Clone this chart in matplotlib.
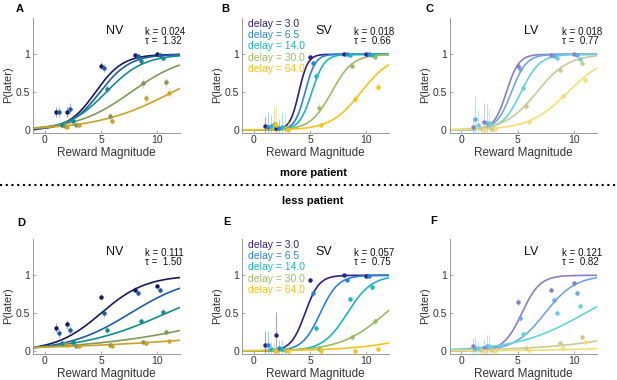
import matplotlib
matplotlib.use("Agg")
import matplotlib.pyplot as plt
import numpy as np
from matplotlib.lines import Line2D

plt.rcParams['font.family'] = ['Liberation Sans', 'DejaVu Sans']

delays = [3.0, 6.5, 14.0, 30.0, 64.0]
magnitudes = [1, 2, 5, 8, 10]

# colours per model (NV darkest, SV medium, LV pale)
colors_NV = ['#1b1a58', '#1f5ca8', '#168a8e', '#86965a', '#cba326']
colors_SV = ['#2c2085', '#2d83d3', '#1eb4c1', '#9eb966', '#f3c41d']
colors_LV = ['#8b7ec2', '#72a5e3', '#65d3db', '#c8cb96', '#f3df78']

# P(later) per delay (rows) and magnitude (cols)
p_A = [[0.24, 0.24, 0.85, 0.99, 1.00],
       [0.24, 0.28, 0.82, 0.98, 0.99],
       [0.06, 0.12, 0.54, 0.91, 0.95],
       [0.05, 0.07, 0.18, 0.62, 0.63],
       [0.04, 0.06, 0.12, 0.42, 0.49]]
p_B = [[0.05, 0.02, 0.96, 1.00, 1.00],
       [0.04, 0.03, 0.89, 1.00, 1.00],
       [0.05, 0.04, 0.71, 0.99, 0.99],
       [0.08, 0.03, 0.29, 0.85, 0.96],
       [0.06, 0.00, 0.07, 0.41, 0.57]]
p_C = [[0.04, 0.11, 0.85, 0.99, 1.00],
       [0.145, 0.09, 0.81, 0.98, 0.99],
       [0.06, 0.09, 0.56, 0.95, 0.94],
       [0.02, 0.01, 0.32, 0.79, 0.88],
       [0.00, 0.01, 0.11, 0.45, 0.66]]
p_D = [[0.31, 0.35, 0.71, 0.81, 0.86],
       [0.235, 0.28, 0.50, 0.76, 0.80],
       [0.10, 0.12, 0.28, 0.40, 0.52],
       [0.09, 0.07, 0.08, 0.12, 0.25],
       [0.08, 0.07, 0.07, 0.10, 0.13]]
p_E = [[0.08, 0.21, 0.94, 1.00, 0.99],
       [0.08, 0.04, 0.76, 0.94, 0.99],
       [0.02, 0.02, 0.30, 0.69, 0.84],
       [0.01, 0.01, 0.03, 0.19, 0.40],
       [0.00, 0.00, 0.00, 0.00, 0.02]]
p_F = [[0.07, 0.04, 0.65, 0.81, 0.90],
       [0.04, 0.06, 0.44, 0.67, 0.76],
       [0.04, 0.06, 0.23, 0.50, 0.59],
       [0.01, 0.01, 0.04, 0.11, 0.19],
       [0.00, 0.00, 0.01, 0.04, 0.12]]

# error bar half-lengths
err_A = [[0.07, 0.07, 0.05, 0.02, 0.02],
         [0.07, 0.07, 0.05, 0.02, 0.02],
         [0.04, 0.05, 0.05, 0.03, 0.03],
         [0.03, 0.03, 0.05, 0.06, 0.06],
         [0.03, 0.03, 0.04, 0.06, 0.06]]
err_B = [[0.12, 0.10, 0.03, 0.01, 0.01],
         [0.20, 0.12, 0.04, 0.01, 0.01],
         [0.15, 0.20, 0.05, 0.02, 0.01],
         [0.25, 0.20, 0.06, 0.03, 0.02],
         [0.25, 0.15, 0.03, 0.04, 0.05]]
err_C = [[0.10, 0.25, 0.04, 0.01, 0.01],
         [0.30, 0.25, 0.04, 0.01, 0.01],
         [0.20, 0.20, 0.05, 0.02, 0.02],
         [0.15, 0.10, 0.06, 0.04, 0.03],
         [0.08, 0.10, 0.03, 0.04, 0.04]]
err_D = [[0.06, 0.06, 0.04, 0.03, 0.03],
         [0.06, 0.06, 0.05, 0.04, 0.03],
         [0.04, 0.04, 0.04, 0.04, 0.04],
         [0.03, 0.03, 0.02, 0.03, 0.04],
         [0.02, 0.02, 0.02, 0.02, 0.02]]
err_E = [[0.18, 0.30, 0.03, 0.01, 0.01],
         [0.18, 0.10, 0.04, 0.02, 0.01],
         [0.10, 0.12, 0.04, 0.04, 0.03],
         [0.10, 0.10, 0.03, 0.03, 0.04],
         [0.05, 0.05, 0.01, 0.01, 0.02]]
err_F = [[0.10, 0.12, 0.05, 0.03, 0.02],
         [0.15, 0.15, 0.04, 0.04, 0.04],
         [0.10, 0.15, 0.04, 0.04, 0.04],
         [0.05, 0.05, 0.02, 0.03, 0.04],
         [0.03, 0.03, 0.01, 0.02, 0.03]]

# fitted psychometric curves: midpoint and slope per delay
mid_A = [4.5, 4.9, 5.45, 7.65, 11.33]
slope_A = [0.82, 0.75, 0.6, 0.415, 0.30]
mid_B = [4.0, 4.55, 5.15, 6.9, 9.52]
slope_B = [2.5, 2.2, 1.8, 1.06, 0.74]
mid_C = [4.0, 4.45, 5.3, 6.7, 9.46]
slope_C = [1.8, 1.5, 1.2, 0.72, 0.58]
mid_D = [5.0, 7.6, 10.8, 18.3, 31.0]
slope_D = [0.5, 0.36, 0.26, 0.158, 0.095]
mid_E = [4.55, 5.9, 8.3, 11.7, 19.1]
slope_E = [1.6, 1.25, 0.92, 0.5, 0.3]
mid_F = [5.37, 7.43, 11.0, 21.0, 29.5]
slope_F = [1.24, 0.74, 0.33, 0.21, 0.2]

model_names = ['NV', 'SV', 'LV', 'NV', 'SV', 'LV']
k_values = ['0.024', '0.018', '0.018', '0.111', '0.057', '0.121']
tau_values = ['1.32', '0.66', '0.77', '1.50', '0.75', '0.82']
panel_letters = ['A', 'B', 'C', 'D', 'E', 'F']

W, H = 617, 380
fig = plt.figure(figsize=(W / 100, H / 100), dpi=100)

XMIN, XMAX = -1.05, 12.0
YMIN, YMAX = -0.035, 1.48


def logistic(x, m, b):
    return 1.0 / (1.0 + np.exp(-b * (x - m)))


def draw_panel(rect, p, err, mid, slope, colors, name, k, tau, legend):
    ax = fig.add_axes(rect)
    ax.set_xlim(XMIN, XMAX)
    ax.set_ylim(YMIN, YMAX)
    xs = np.linspace(XMIN, XMAX, 300)
    for i in range(len(delays)):
        ax.plot(xs, logistic(xs, mid[i], slope[i]), color=colors[i], lw=1.2, zorder=2)
    for i in range(len(delays)):
        xpos = np.array(magnitudes) + 0.25 * i
        ax.errorbar(xpos, p[i], yerr=err[i], fmt='none', ecolor=colors[i],
                    elinewidth=0.8, alpha=0.4, zorder=3)
        ax.plot(xpos, p[i], 'o', color=colors[i], ms=3.2, mew=0, zorder=4)
    for s in ['top', 'right']:
        ax.spines[s].set_visible(False)
    for s in ['left', 'bottom']:
        ax.spines[s].set_color('#9a9a9a')
        ax.spines[s].set_linewidth(0.7)
    ax.set_xticks([0, 5, 10])
    ax.set_yticks([0, 0.5, 1])
    ax.set_yticklabels(['0', '0.5', '1'])
    ax.tick_params(direction='in', length=2.5, width=0.6, color='#9a9a9a',
                   labelsize=7.5, labelcolor='#333333', pad=2)
    ax.set_xlabel('Reward Magnitude', fontsize=8.5, color='#333333', labelpad=1)
    ax.set_ylabel('P(later)', fontsize=8, color='#333333')
    ax.yaxis.set_label_coords(-0.135, 0.42)
    ax.text(6.2, 1.31, name, fontsize=9, ha='center', va='center', color='#111111')
    ax.text(8.9, 1.29, 'k = ' + k, fontsize=7, ha='left', va='center', color='#111111')
    ax.text(8.9, 1.17, '\u03c4 =  ' + tau, fontsize=7, ha='left', va='center', color='#111111')
    if legend:
        for i, d in enumerate(delays):
            ax.text(-0.56, 1.40 - 0.148 * i, 'delay = %.1f' % d, fontsize=7.5,
                    color=colors[i], ha='left', va='center')
    return ax


lefts = [33.0 / W, 242.0 / W, 449.5 / W]
width = 147.0 / W
height = 114.6 / H
bottoms = [(H - 132.6) / H, (H - 353.6) / H]

panel_p = [p_A, p_B, p_C, p_D, p_E, p_F]
panel_err = [err_A, err_B, err_C, err_D, err_E, err_F]
panel_mid = [mid_A, mid_B, mid_C, mid_D, mid_E, mid_F]
panel_slope = [slope_A, slope_B, slope_C, slope_D, slope_E, slope_F]
panel_colors = [colors_NV, colors_SV, colors_LV] * 2

for j in range(6):
    r, c = divmod(j, 3)
    draw_panel([lefts[c], bottoms[r], width, height], panel_p[j], panel_err[j],
               panel_mid[j], panel_slope[j], panel_colors[j], model_names[j],
               k_values[j], tau_values[j], legend=(c == 1))

letter_pos = [(20, 8.5), (225, 8.5), (429, 8.5), (21, 222.5), (226.5, 222), (434, 221.5)]
for letter, (px, py) in zip(panel_letters, letter_pos):
    fig.text(px / W, 1 - py / H, letter, fontsize=8, fontweight='bold',
             ha='center', va='center')

fig.text(313 / W, 1 - 172.7 / H, 'more patient', fontsize=8, fontweight='bold',
         ha='center', va='center')
fig.text(313 / W, 1 - 201 / H, 'less patient', fontsize=8, fontweight='bold',
         ha='center', va='center')
fig.add_artist(Line2D([0.0, 1.0], [1 - 185 / H, 1 - 185 / H], transform=fig.transFigure,
                      color='black', lw=1.5, linestyle=(0, (1, 1.75))))

fig.savefig('out.png', dpi=100)
